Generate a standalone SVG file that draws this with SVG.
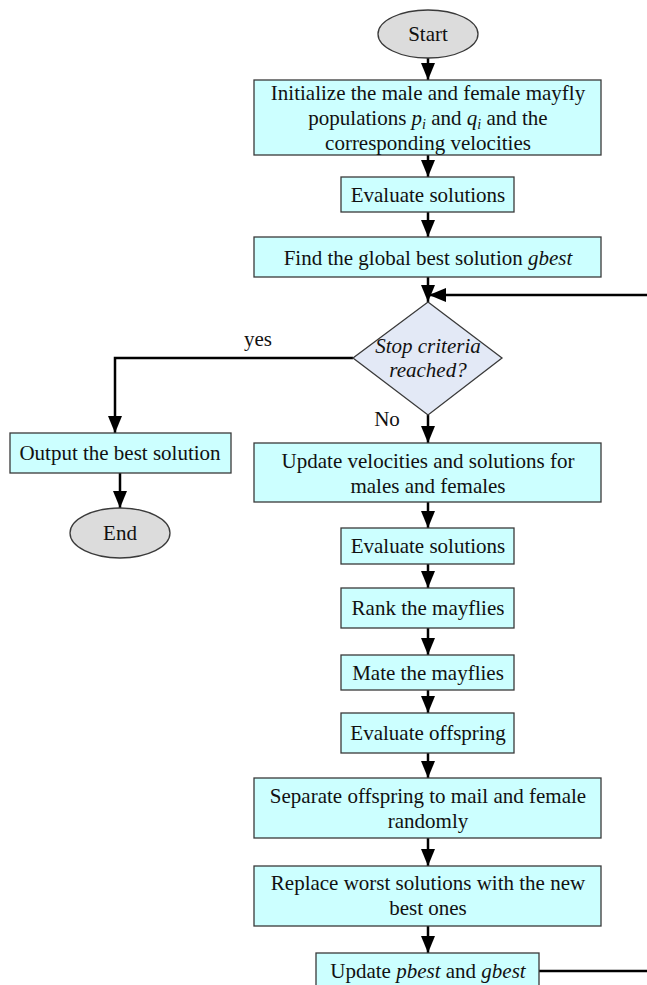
<svg xmlns="http://www.w3.org/2000/svg" width="647" height="985" viewBox="0 0 647 985">
<style>
.box{fill:#ccffff;stroke:#3a3a3a;stroke-width:1.3}
.term{fill:#dcdcdc;stroke:#3a3a3a;stroke-width:1.3}
.dec{fill:#e3e9f6;stroke:#3a3a3a;stroke-width:1.3}
.t{font-family:"Liberation Serif","Times New Roman",serif;font-size:21px;fill:#111;text-anchor:middle}
.i{font-style:italic}
.c{fill:none;stroke:#000;stroke-width:2.5}
</style>
<defs>
<marker id="ah" markerUnits="userSpaceOnUse" markerWidth="18" markerHeight="14" refX="17" refY="7" orient="auto">
<path d="M0,0 L17,7 L0,14 Z" fill="#000"/>
</marker>
</defs>
<g id="connectors">
<line class="c" x1="428" y1="58" x2="428" y2="80" marker-end="url(#ah)"/>
<line class="c" x1="428" y1="155" x2="428" y2="177" marker-end="url(#ah)"/>
<line class="c" x1="428" y1="212" x2="428" y2="237" marker-end="url(#ah)"/>
<line class="c" x1="428" y1="277" x2="428" y2="302" marker-end="url(#ah)"/>
<line class="c" x1="647" y1="295" x2="429" y2="295" marker-end="url(#ah)"/>
<polyline class="c" points="353,358 115,358 115,433" marker-end="url(#ah)"/>
<line class="c" x1="428" y1="415" x2="428" y2="443" marker-end="url(#ah)"/>
<line class="c" x1="120" y1="473" x2="120" y2="508" marker-end="url(#ah)"/>
<line class="c" x1="428" y1="502" x2="428" y2="528" marker-end="url(#ah)"/>
<line class="c" x1="428" y1="564" x2="428" y2="588" marker-end="url(#ah)"/>
<line class="c" x1="428" y1="628" x2="428" y2="655" marker-end="url(#ah)"/>
<line class="c" x1="428" y1="690" x2="428" y2="713" marker-end="url(#ah)"/>
<line class="c" x1="428" y1="753" x2="428" y2="778" marker-end="url(#ah)"/>
<line class="c" x1="428" y1="838" x2="428" y2="866" marker-end="url(#ah)"/>
<line class="c" x1="428" y1="926" x2="428" y2="953" marker-end="url(#ah)"/>
<line class="c" x1="539" y1="971" x2="647" y2="971"/>
<text class="t" x="258" y="346">yes</text>
<text class="t" x="387" y="426">No</text>
</g>
<g id="start">
<ellipse class="term" cx="428" cy="34" rx="50" ry="24"/>
<text class="t" x="428" y="41">Start</text>
</g>
<g id="init">
<rect class="box" x="254" y="80" width="347" height="75"/>
<text class="t" x="428" y="100">Initialize the male and female mayfly</text>
<text class="t" x="428" y="125">populations <tspan class="i">p</tspan><tspan class="i" font-size="14" dy="4">i</tspan><tspan dy="-4"> and </tspan><tspan class="i">q</tspan><tspan class="i" font-size="14" dy="4">i</tspan><tspan dy="-4"> and the</tspan></text>
<text class="t" x="428" y="150">corresponding velocities</text>
</g>
<g id="eval1">
<rect class="box" x="341" y="177" width="173" height="35"/>
<text class="t" x="428" y="202">Evaluate solutions</text>
</g>
<g id="gbest">
<rect class="box" x="254" y="237" width="347" height="40"/>
<text class="t" x="428" y="265">Find the global best solution <tspan class="i">gbest</tspan></text>
</g>
<g id="stop">
<polygon class="dec" points="428,302 502,358 428,415 353,358"/>
<text class="t i" x="428" y="353">Stop criteria</text>
<text class="t i" x="428" y="377">reached?</text>
</g>
<g id="output">
<rect class="box" x="10" y="433" width="221" height="40"/>
<text class="t" x="120" y="460">Output the best solution</text>
</g>
<g id="end">
<ellipse class="term" cx="120" cy="533" rx="50" ry="25"/>
<text class="t" x="120" y="540">End</text>
</g>
<g id="update">
<rect class="box" x="254" y="443" width="347" height="59"/>
<text class="t" x="428" y="468">Update velocities and solutions for</text>
<text class="t" x="428" y="493">males and females</text>
</g>
<g id="eval2">
<rect class="box" x="341" y="528" width="173" height="36"/>
<text class="t" x="428" y="553">Evaluate solutions</text>
</g>
<g id="rank">
<rect class="box" x="341" y="588" width="173" height="40"/>
<text class="t" x="428" y="615">Rank the mayflies</text>
</g>
<g id="mate">
<rect class="box" x="341" y="655" width="173" height="35"/>
<text class="t" x="428" y="680">Mate the mayflies</text>
</g>
<g id="evaloff">
<rect class="box" x="341" y="713" width="173" height="40"/>
<text class="t" x="428" y="740">Evaluate offspring</text>
</g>
<g id="separate">
<rect class="box" x="254" y="778" width="347" height="60"/>
<text class="t" x="428" y="803">Separate offspring to mail and female</text>
<text class="t" x="428" y="828">randomly</text>
</g>
<g id="replace">
<rect class="box" x="254" y="866" width="347" height="60"/>
<text class="t" x="428" y="890">Replace worst solutions with the new</text>
<text class="t" x="428" y="915">best ones</text>
</g>
<g id="pbest">
<rect class="box" x="316" y="953" width="223" height="40"/>
<text class="t" x="428" y="978">Update <tspan class="i">pbest</tspan> and <tspan class="i">gbest</tspan></text>
</g>
</svg>
